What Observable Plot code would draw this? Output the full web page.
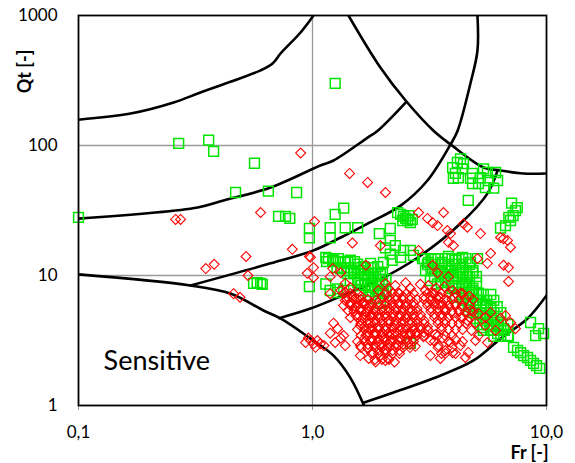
<!DOCTYPE html>
<html><head><meta charset="utf-8">
<script src="https://cdn.jsdelivr.net/npm/d3@7"></script>
<script src="https://cdn.jsdelivr.net/npm/@observablehq/plot@0.6"></script>
<style>body{margin:0;background:#fff}svg{display:block}</style>
</head><body><div id="chart"></div>
<script>
const xTicks = [0.1, 1, 10];
const xTickLabels = ["0,1", "1,0", "10,0"];
const yTicks = [1, 10, 100, 1000];
const yTickLabels = ["1", "10", "100", "1000"];
const gridFr = [1];
const gridQt = [10, 100];
const zoneLabel = "Sensitive";
const xTitle = "Fr [-]";
const yTitle = "Qt [-]";

// zone boundaries [Fr, Qt]
const boundary1 = [[0.1,158],[0.167,176],[0.255,214],[0.332,256],[0.6,378],[0.675,427],[0.73,510],[0.889,740],[1.01,1000]];
const boundary2 = [[0.1,27.4],[0.323,33.4],[0.417,37.8],[0.662,47.5],[1.08,70.2],[1.23,76.7],[1.72,115],[1.9,130],[2.5,214]];
const boundary3 = [[1.425,1000],[1.95,398],[2.5,222],[3.29,130],[3.89,102],[5.38,67.8],[6.36,64.3],[7.97,60.9],[10,60.9]];
const boundary4 = [[5.07,1000],[5.07,538],[4.73,300],[4.17,130],[3.89,102],[3.1,53.8],[2.38,34.5],[1.72,25.1],[1.32,19.6],[1.01,15.6],[0.662,12.4],[0.301,8.38]];
const boundary5 = [[0.1,10.2],[0.301,8.38],[0.446,7.27],[0.617,5.38],[0.73,4.67],[0.98,3.27],[1.23,2.42],[1.45,1.64],[1.66,1.0]];
const boundary6 = [[0.72,4.7],[0.98,5.57],[1.41,7.27],[1.9,9.15],[2.81,13.7],[4.29,25.1],[5.6,42.8],[6.18,64.3]];
const boundary7 = [[1.65,1.05],[2.22,1.26],[3.29,1.62],[4.88,2.22],[6.36,3.27],[8.3,4.67],[10,7.02]];

// green squares (scattered)
const greenFr = [0.10,1.25,0.268,0.36,0.378,0.565,0.469,0.648,0.855,0.716,0.767,0.80,0.97,0.97,0.56,0.58,0.60,0.61,0.97,1.19,1.19,1.25,1.36,1.38,1.56,1.93,2.15,2.15,1.17,1.23,1.28,
2.31,2.38,2.45,2.5,2.55,2.62,2.43,2.58,2.67,
4.16,4.29,4.42,4.08,4.0,4.2,3.97,4.37,4.83,5.22,5.59,5.65,5.48,5.95,6.18,4.83,4.73,5.12,5.38,6.06,4.63,
7.09,7.37,7.2,7.02,6.68,6.36,7.5,6.9,
1.14,1.22,1.29,1.38,1.45,1.56,1.65,1.77,1.9,2.01,1.32,1.41,1.5,1.6,1.72,1.82,1.95,1.45,1.56,1.67,1.77,1.9,2.01,1.6,1.74,1.86,1.95,
2.05,2.15,2.26,2.45,2.62,2.38,2.7,2.19,
2.95,3.13,3.35,3.59,3.81,4.08,4.38,4.73,5.07,3.04,3.26,3.52,3.77,4.0,4.29,4.59,4.83,3.19,3.42,3.70,3.97,4.2,4.5,4.78,5.12,4.08,4.38,4.73,5.07,5.48,5.77,4.63,5.22,5.48,5.88,6.24,5.77,6.18,6.55,6.88,5.33,
7.23,7.52,7.75,7.98,8.3,8.55,8.8,9.07,9.35,
8.55,9.25,9.72,8.98,2.62,
1.36,1.19,1.28,1.14];
const greenQt = [28,300,104,110,90,73,43.5,44.5,43.5,28.5,28.5,27.5,23,19.5,8.7,8.8,8.7,8.55,8.2,23.3,19.5,29.5,33,23.3,23.3,21,23,18.6,13.5,13.1,7.9,
30.5,29.5,28.5,27.5,26.5,25.5,26.5,28.9,27,
74,79,72.5,61,56,56.5,67.5,66,61,56.5,62,53.8,47.5,47,53.8,51,56,51,66,62,37.8,
36,31.6,28.9,26.5,24.2,23.2,33.3,28,
13.8,13.1,13.5,12.6,13.1,12.2,11.7,12.4,11.7,12.6,11.3,10.9,10.5,10.9,10.3,9.8,10.2,9.15,8.8,8.5,8.1,7.67,7.3,7.67,7.0,6.65,6.1,
16.3,14.6,17.0,15.6,15.6,13.8,14.3,13.1,
13.5,12.6,13.5,12.6,14.0,13.1,13.8,12.6,13.5,10.9,11.3,10.5,10.9,10.0,10.5,9.8,10.5,9.15,8.6,9.15,8.38,7.95,8.5,7.67,7.3,6.8,6.43,6.1,6.43,5.88,5.6,5.38,5.1,4.7,4.51,4.12,3.78,3.58,3.9,3.45,3.97,
2.8,2.65,2.55,2.42,2.34,2.22,2.11,2.03,1.93,
4.35,3.9,3.58,3.45,3.0,
7.67,7.67,7.4,8.6];

// green squares (dense clusters)
const greenDenseFr = [1.148,1.229,1.317,1.411,1.512,
1.272,1.363,1.460,1.564,1.676,1.796,
1.411,1.512,1.619,1.735,1.859,1.991,
1.564,1.676,1.796,1.924,2.061,
1.619,1.735,1.859,1.991,
1.796,1.924,2.061,
2.996,3.209,3.439,3.684,3.947,4.228,4.529,
3.101,3.322,3.559,3.813,4.085,4.376,4.688,
3.209,3.439,3.684,3.947,4.228,4.529,4.852,
3.322,3.559,3.813,4.085,4.376,4.688,5.022,
3.559,3.813,4.085,4.376,4.688,5.022,
3.947,4.228,4.529,4.852,
4.376,4.688,5.022,5.375,5.779,
4.529,4.852,5.198,5.557,5.955,
4.688,5.022,5.375,5.779,6.16,
4.852,5.198,5.557,5.955,6.38,
5.022,5.375,5.779,6.16,
5.198,5.557,5.955,6.38,6.84,
5.375,5.779,6.16,6.61,
5.955,6.38,6.84];
const greenDenseQt = [12.8,12.8,12.8,12.8,12.8,
11.5,11.5,11.5,11.5,11.5,11.5,
10.36,10.36,10.36,10.36,10.36,10.36,
9.32,9.32,9.32,9.32,9.32,
8.38,8.38,8.38,8.38,
7.53,7.53,7.53,
13.5,13.5,13.5,13.5,13.5,13.5,13.5,
12.15,12.15,12.15,12.15,12.15,12.15,12.15,
10.9,10.9,10.9,10.9,10.9,10.9,10.9,
9.82,9.82,9.82,9.82,9.82,9.82,9.82,
8.83,8.83,8.83,8.83,8.83,8.83,
7.94,7.94,7.94,7.94,
7.14,7.14,7.14,7.14,7.14,
6.43,6.43,6.43,6.43,6.43,
5.77,5.77,5.77,5.77,5.77,
5.19,5.19,5.19,5.19,5.19,
4.67,4.67,4.67,4.67,
4.20,4.20,4.20,4.20,4.20,
3.78,3.78,3.78,3.78,
3.40,3.40,3.40];

// red diamonds (scattered)
const redFr = [0.89,1.44,1.72,2.05,0.26,0.273,0.60,1.02,0.82,0.52,0.35,0.38,0.53,0.97,1.01,0.95,1.01,1.22,1.19,0.46,0.49,1.19,2.84,3.1,3.63,3.26,3.42,3.77,3.89,4.42,4.59,5.22,3.81,4.0,2.84,1.48,1.95,5.07,5.77,5.59,6.36,6.55,6.82,7.02,6.55,6.88,6.88,3.26,1.69,1.32,0.98,
0.934,0.981,1.01,1.05,1.08,1.12,1.03,0.96,
1.19,1.28,1.36,1.25,1.38,1.32,1.23,
1.38,1.45,1.53,1.6,1.69,1.77,1.42,1.55,1.64,1.74,1.38,1.48,
1.53,1.64,1.77,1.91,2.05,2.19,2.38,2.57,2.75,1.6,1.74,1.86,2.01,2.15,2.33,1.82,1.95,2.11,2.26,2.43,2.62,1.69,
1.6,1.72,1.82,1.95,2.09,2.24,1.77,1.93,2.05,1.6,1.74,
1.86,1.99,2.15,2.33,2.5,2.67,2.05,2.22,2.38,1.91,2.11,2.33,
2.05,2.26,2.5,2.62,1.38,1.45,1.32,
3.04,3.26,3.52,3.77,4.08,4.38,4.73,5.12,5.48,3.19,3.45,3.7,3.97,4.29,4.59,4.97,2.89,3.13,3.38,3.66,3.97,4.29,4.68,
2.5,2.67,2.89,3.13,3.35,3.59,3.89,2.75,2.98,3.19,3.45,3.7,3.97,
4.29,4.63,4.97,3.52,4.08,4.78,5.48,
5.77,6.36,6.68,7.02,6.06,7.37,5.12,
3.42,3.81,2.05,1.86,3.19,3.7,4.5,5.59];
const redQt = [87.5,61,52,43.5,27,27,30.5,26,15.9,14,11.3,12.2,10,14,11.5,10.4,9.65,11.3,9.8,7.25,6.8,7.25,30.5,27.5,30.5,25.5,24.2,22.2,21,25,23.5,21,18,17,15.6,17.8,17,13.5,14.8,12.4,19.6,19.2,18.6,16.5,12,11.5,9.0,12,12,10.5,13.8,
3.05,3.16,2.98,3.16,2.98,2.89,2.8,3.3,
3.6,3.9,3.45,3.05,2.89,3.3,4.3,
6.43,6.1,5.75,5.5,5.2,4.92,5.38,6.6,6.2,5.8,7.4,7.0,
4.92,4.65,4.3,4.0,3.78,3.52,3.3,3.05,2.85,4.12,3.9,3.58,3.3,3.1,2.9,5.1,4.7,4.51,4.12,3.9,3.58,3.45,
2.89,2.75,2.52,2.42,2.3,2.16,3.16,2.93,2.7,2.42,2.3,
6.43,6.8,6.43,6.1,5.75,5.38,5.5,5.1,4.92,7.67,7.95,7.35,
8.7,8.38,8.8,7.95,8.7,8.1,7.67,
7.67,7.3,6.8,6.43,6.1,5.65,5.38,5.1,4.75,6.43,5.95,5.38,5.1,4.75,4.51,4.3,8.55,8.38,8.0,8.2,7.67,7.3,6.95,
4.7,4.35,4.05,3.78,3.52,3.3,3.05,3.6,3.38,3.16,2.89,2.65,2.55,
2.89,2.56,3.16,2.3,3.22,3.78,4.12,
5.2,4.7,4.92,4.35,3.78,3.9,3.45,
10.5,9.8,2.22,2.16,2.42,2.52,2.34,3.05];

// red diamonds (dense mass)
const redDenseFr = [1.357,1.453,1.557,2.051,2.197,2.354,2.522,2.702,3.101,3.322,3.559,3.813,4.085,4.376,
1.404,1.504,1.612,1.727,2.123,2.274,2.436,2.61,2.796,2.996,3.209,3.439,3.684,3.947,4.228,4.529,4.852,
1.357,1.453,1.557,1.668,1.787,1.915,2.051,2.197,2.354,2.522,2.702,3.101,3.322,3.559,3.813,4.085,4.376,4.688,
1.504,1.612,1.727,1.85,1.982,2.123,2.274,2.436,2.61,2.796,3.209,3.439,3.684,3.947,4.228,4.529,4.852,
1.453,1.557,1.668,1.787,1.915,2.051,2.197,2.354,2.522,2.702,2.894,3.322,3.559,3.813,4.085,4.376,4.688,
1.612,1.727,1.85,1.982,2.123,2.274,2.436,2.61,2.796,2.996,3.439,3.684,3.947,4.228,4.529,
1.557,1.668,1.787,1.915,2.051,2.197,2.354,2.522,2.702,2.894,3.101,3.559,3.813,4.085,4.376,
1.612,1.727,1.85,1.982,2.123,2.274,2.436,2.61,2.796,2.996,3.439,3.684,3.947,
1.557,1.668,1.787,1.915,2.051,2.197,2.354,2.522,2.702,3.322,3.813,4.376,
1.612,1.727,1.85,1.982,2.123,2.274,2.436,2.61,3.439,3.947,
1.787,1.915,2.051,2.197,2.354,3.559,4.085,
1.85,1.982,2.123];
const redDenseQt = [7.27,7.27,7.27,7.27,7.27,7.27,7.27,7.27,7.27,7.27,7.27,7.27,7.27,7.27,
6.54,6.54,6.54,6.54,6.54,6.54,6.54,6.54,6.54,6.54,6.54,6.54,6.54,6.54,6.54,6.54,6.54,
5.88,5.88,5.88,5.88,5.88,5.88,5.88,5.88,5.88,5.88,5.88,5.88,5.88,5.88,5.88,5.88,5.88,5.88,
5.29,5.29,5.29,5.29,5.29,5.29,5.29,5.29,5.29,5.29,5.29,5.29,5.29,5.29,5.29,5.29,5.29,
4.75,4.75,4.75,4.75,4.75,4.75,4.75,4.75,4.75,4.75,4.75,4.75,4.75,4.75,4.75,4.75,4.75,
4.27,4.27,4.27,4.27,4.27,4.27,4.27,4.27,4.27,4.27,4.27,4.27,4.27,4.27,4.27,
3.84,3.84,3.84,3.84,3.84,3.84,3.84,3.84,3.84,3.84,3.84,3.84,3.84,3.84,3.84,
3.45,3.45,3.45,3.45,3.45,3.45,3.45,3.45,3.45,3.45,3.45,3.45,3.45,
3.11,3.11,3.11,3.11,3.11,3.11,3.11,3.11,3.11,3.11,3.11,3.11,
2.79,2.79,2.79,2.79,2.79,2.79,2.79,2.79,2.79,2.79,
2.51,2.51,2.51,2.51,2.51,2.51,2.51,
2.26,2.26,2.26];

// red diamonds (core of the dense mass, second layer)
const redCoreFr = [1.404,1.504,1.612,2.123,2.274,2.436,2.61,2.996,3.209,3.439,
1.453,1.557,1.668,1.787,1.915,2.051,2.197,2.354,2.522,2.702,3.101,3.322,3.559,
1.504,1.612,1.727,1.85,1.982,2.123,2.274,2.436,2.61,2.796,3.209,3.439,3.684,
1.557,1.668,1.787,1.915,2.051,2.197,2.354,2.522,2.702,2.894,3.322,3.559,
1.612,1.727,1.85,1.982,2.123,2.274,2.436,2.61,2.796,2.996,3.439,3.684,
1.668,1.787,1.915,2.051,2.197,2.354,2.522,2.702,2.894,3.101,3.559,
1.727,1.85,1.982,2.123,2.274,2.436,2.61,2.796,2.996,
1.668,1.787,1.915,2.051,2.197,2.354,2.522,2.702,
1.727,1.85,1.982,2.123,2.274,2.436,2.61,
1.915,2.051,2.197,2.354];
const redCoreQt = [6.90,6.90,6.90,6.90,6.90,6.90,6.90,6.90,6.90,6.90,
6.20,6.20,6.20,6.20,6.20,6.20,6.20,6.20,6.20,6.20,6.20,6.20,6.20,
5.57,5.57,5.57,5.57,5.57,5.57,5.57,5.57,5.57,5.57,5.57,5.57,5.57,
5.01,5.01,5.01,5.01,5.01,5.01,5.01,5.01,5.01,5.01,5.01,5.01,
4.51,4.51,4.51,4.51,4.51,4.51,4.51,4.51,4.51,4.51,4.51,4.51,
4.05,4.05,4.05,4.05,4.05,4.05,4.05,4.05,4.05,4.05,4.05,
3.64,3.64,3.64,3.64,3.64,3.64,3.64,3.64,3.64,
3.28,3.28,3.28,3.28,3.28,3.28,3.28,3.28,
2.95,2.95,2.95,2.95,2.95,2.95,2.95,
2.65,2.65,2.65,2.65];

const allGreenFr = greenFr.concat(greenDenseFr), allGreenQt = greenQt.concat(greenDenseQt);
const allRedFr = redFr.concat(redDenseFr, redCoreFr), allRedQt = redQt.concat(redDenseQt, redCoreQt);
const green = allGreenFr.map((x, i) => ({x, y: allGreenQt[i]}));
const red = allRedFr.map((x, i) => ({x, y: allRedQt[i]}));
const boundaries = [boundary1, boundary2, boundary3, boundary4, boundary5, boundary6, boundary7];

const squareSym = {draw(ctx, size) { const h = Math.sqrt(size / Math.PI); ctx.moveTo(-h, -h); ctx.lineTo(h, -h); ctx.lineTo(h, h); ctx.lineTo(-h, h); ctx.closePath(); }};
const diamondSym = {draw(ctx, size) { const r = Math.sqrt(size / Math.PI) * 1.1; ctx.moveTo(0, -r); ctx.lineTo(r, 0); ctx.lineTo(0, r); ctx.lineTo(-r, 0); ctx.closePath(); }};

const font = "Lato, 'Open Sans', sans-serif";
const chart = Plot.plot({
  width: 575, height: 463,
  marginLeft: 78, marginRight: 29, marginTop: 15, marginBottom: 58,
  x: {type: "log", domain: [0.1, 10]},
  y: {type: "log", domain: [1, 1000]},
  style: {fontFamily: font, fontSize: "17px", color: "black", background: "white"},
  marks: [
    Plot.ruleX(gridFr, {stroke: "#9a9a9a", strokeWidth: 1.3}),
    Plot.ruleY(gridQt, {stroke: "#9a9a9a", strokeWidth: 1.3}),
    Plot.axisX({ticks: xTicks, tickFormat: d => xTickLabels[xTicks.indexOf(d)], tickSize: 5, tickPadding: 15, stroke: "#9a9a9a", fill: "black", fontSize: 17, label: null}),
    Plot.axisY({ticks: yTicks, tickFormat: d => yTickLabels[yTicks.indexOf(d)], tickSize: 0, tickPadding: 21, fill: "black", fontSize: 17, label: null}),
    ...boundaries.map(b => Plot.line(b, {x: d => d[0], y: d => d[1], stroke: "black", strokeWidth: 2.6, curve: "catmull-rom", clip: true})),
    Plot.dot(green, {x: "x", y: "y", symbol: squareSym, r: 4.9, stroke: "#00e600", strokeWidth: 1.5, fill: "none"}),
    Plot.dot(red, {x: "x", y: "y", symbol: diamondSym, r: 4.5, stroke: "#ff0000", strokeWidth: 1.1, fill: "none"}),
    Plot.frame({stroke: "black", strokeWidth: 1.8}),
    Plot.text([zoneLabel], {x: 0.128, y: 2.2, textAnchor: "start", fontSize: 27, fill: "black"}),
    Plot.text([yTitle], {frameAnchor: "top-left", dx: -53, dy: 56, rotate: -90, textAnchor: "middle", lineAnchor: "middle", fontWeight: "bold", fontSize: 18, fill: "black"}),
    Plot.text([xTitle], {frameAnchor: "bottom-right", dx: -17, dy: 48, textAnchor: "middle", lineAnchor: "middle", fontWeight: "bold", fontSize: 18, fill: "black"})
  ]
});
document.getElementById("chart").appendChild(chart);
</script>
</body></html>
